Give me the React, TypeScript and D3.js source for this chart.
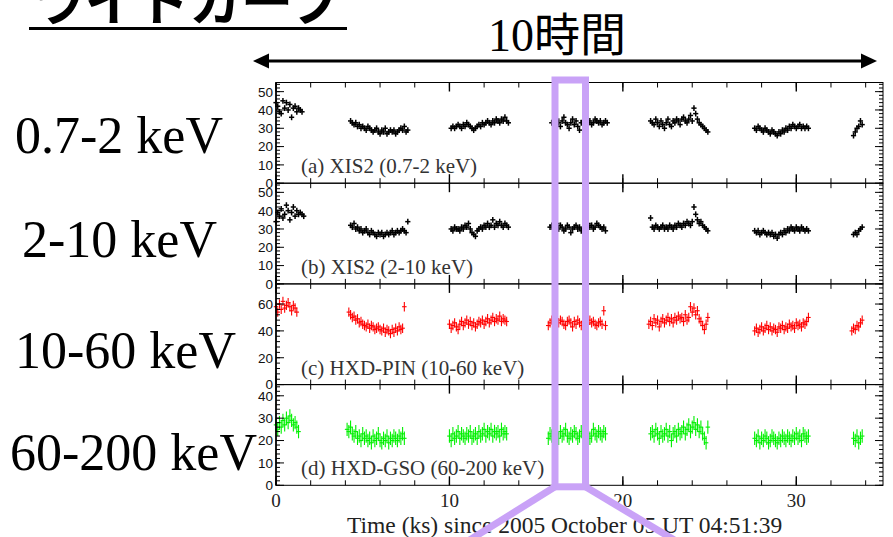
import React from "react";
import * as d3 from "d3";

// ---------- data ----------
const TIME_DOMAIN: [number, number] = [0, 35];
const X_MAJOR_TICKS = [0, 10, 20, 30];
const X_TICK_LABELS = ["0", "10", "20", "30"];
const BIN_KS = 0.1;

const PANEL_NAMES = [
  "(a) XIS2 (0.7-2 keV)",
  "(b) XIS2 (2-10 keV)",
  "(c) HXD-PIN (10-60 keV)",
  "(d) HXD-GSO (60-200 keV)",
];
const BAND_LABELS = ["0.7-2 keV", "2-10 keV", "10-60 keV", "60-200 keV"];
const Y_MAX = [55, 55, 75, 45];
const Y_MAJOR_STEP = [10, 10, 20, 10];
const Y_MINOR_STEP = [2, 2, 4, 2];
const Y_ERR = [1.6, 1.6, 3.5, 3.0];
const X_ERR = [0.15, 0.15, 0.13, 0.13];
const SERIES_COLORS = ["#000000", "#000000", "#ff0000", "#00f000"];

// segment start times (ks) per panel
const SOFT_STARTS = [0.0, 4.3, 10.1, 15.9, 21.6, 27.6, 33.3];
const HARD_STARTS = [0.0, 4.3, 10.1, 15.8, 21.6, 27.6, 33.3];
const PIN_STARTS = [0.0, 4.2, 10.0, 15.7, 21.5, 27.6, 33.2];
const GSO_STARTS = [0.0, 4.1, 10.0, 15.7, 21.6, 27.6, 33.3];

// count rates per segment
const SOFT_RATES: number[][] = [
  [44, 42, 39, 38, 45, 41, 44, 40, 43, 36, 41, 42, 39, 41, 40, 39],
  [34, 33, 32, 33, 31, 32, 30, 31, 30, 29, 31, 30, 29, 28, 29, 30, 28, 27, 29, 28, 30, 27, 28, 29, 28, 29, 27, 28, 29, 30, 29, 31, 28, 29],
  [30, 31, 30, 31, 32, 31, 30, 32, 31, 33, 32, 31, 30, 29, 30, 31, 32, 31, 33, 32, 33, 34, 33, 32, 34, 33, 35, 34, 33, 35, 34, 36, 34, 33],
  [33, 34, 32, 35, 33, 31, 34, 36, 33, 32, 30, 33, 35, 32, 34, 31, 29, 33, 34, 32, 35, 33, 34, 32, 33, 35, 34, 33, 34, 32, 33, 34, 33],
  [34, 33, 32, 35, 33, 31, 34, 32, 30, 33, 35, 32, 31, 34, 33, 35, 34, 32, 35, 36, 34, 33, 35, 37, 34, 41, 38, 35, 33, 32, 31, 30, 29, 28],
  [30, 29, 31, 30, 29, 28, 30, 29, 28, 27, 29, 28, 27, 26, 28, 27, 29, 28, 30, 29, 31, 30, 32, 31, 30, 31, 32, 30, 31, 30, 31, 30],
  [26, 28, 30, 31, 34, 32],
];
const HARD_RATES: number[][] = [
  [34, 39, 37, 41, 36, 38, 43, 40, 35, 39, 42, 37, 40, 38, 39, 38, 37],
  [32, 31, 33, 30, 31, 29, 30, 28, 29, 30, 28, 27, 29, 28, 27, 26, 28, 27, 28, 26, 27, 28, 27, 28, 29, 27, 28, 29, 28, 29, 30, 29, 28, 34],
  [30, 29, 31, 30, 30, 29, 31, 30, 32, 31, 33, 30, 28, 27, 26, 29, 30, 31, 30, 32, 31, 33, 31, 32, 35, 31, 33, 32, 34, 32, 31, 33, 32, 31],
  [31, 32, 30, 31, 33, 30, 32, 31, 29, 30, 32, 31, 28, 30, 31, 32, 30, 31, 29, 30, 31, 32, 33, 31, 32, 30, 31, 33, 32, 31, 30, 31, 29],
  [36, 31, 30, 32, 31, 30, 31, 32, 30, 31, 30, 32, 31, 30, 32, 31, 33, 32, 31, 33, 32, 34, 33, 32, 34, 42, 38, 35, 33, 34, 32, 31, 30, 29],
  [29, 28, 29, 27, 28, 29, 28, 27, 28, 27, 28, 26, 27, 25, 27, 28, 27, 29, 28, 30, 29, 31, 30, 29, 31, 30, 29, 31, 30, 29, 30, 29],
  [27, 28, 27, 29, 30, 31],
];
const PIN_RATES: number[][] = [
  [58, 54, 60, 56, 62, 57, 59, 61, 58, 55, 59, 57, 54],
  [54, 52, 50, 51, 48, 49, 46, 47, 45, 44, 43, 45, 42, 44, 43, 41, 42, 43, 41, 40, 42, 39, 41, 40, 38, 41, 39, 42, 40, 43, 41, 42, 58],
  [45, 42, 44, 46, 43, 41, 45, 47, 44, 46, 48, 45, 47, 44, 46, 43, 45, 47, 46, 48, 45, 47, 49, 46, 48, 50, 47, 49, 48, 51, 47, 49, 48, 47],
  [44, 46, 48, 47, 45, 49, 46, 48, 47, 45, 44, 47, 48, 46, 43, 47, 45, 48, 46, 44, 47, 49, 46, 45, 48, 46, 47, 45, 44, 46, 47, 45, 55, 44],
  [45, 47, 44, 49, 46, 48, 43, 47, 49, 46, 48, 50, 47, 49, 46, 50, 48, 51, 49, 50, 47, 52, 48, 50, 58, 54, 57, 52, 55, 49, 47, 44, 41, 45, 50],
  [40, 42, 39, 41, 43, 40, 42, 44, 41, 43, 40, 42, 41, 39, 43, 42, 44, 41, 43, 42, 45, 43, 44, 42, 46, 44, 45, 43, 46, 45, 47, 50],
  [40, 42, 41, 44, 43, 46, 48],
];
const GSO_RATES: number[][] = [
  [27, 25, 28, 26, 29, 27, 30, 28, 31, 29, 27, 28, 26, 24],
  [25, 24, 26, 23, 22, 24, 21, 22, 20, 23, 21, 22, 20, 21, 19, 22, 20, 21, 23, 20, 19, 21, 20, 22, 19, 21, 20, 22, 21, 20, 22, 21, 23, 21],
  [22, 20, 23, 21, 22, 24, 21, 23, 22, 21, 23, 22, 24, 21, 22, 23, 21, 24, 22, 23, 25, 22, 24, 23, 25, 22, 24, 23, 24, 22, 25, 23, 24, 23],
  [21, 23, 22, 24, 22, 23, 21, 24, 22, 23, 25, 22, 21, 23, 22, 24, 23, 21, 22, 24, 23, 22, 24, 23, 21, 22, 25, 23, 22, 24, 23, 22, 24, 23],
  [23, 24, 22, 25, 23, 21, 24, 22, 23, 25, 22, 24, 20, 23, 24, 22, 25, 23, 24, 26, 23, 25, 27, 24, 26, 28, 25, 27, 24, 26, 23, 21, 19, 26],
  [21, 20, 22, 19, 21, 20, 22, 21, 19, 20, 22, 21, 20, 19, 21, 20, 22, 21, 20, 22, 21, 20, 22, 21, 23, 21, 22, 20, 23, 22, 21, 22],
  [21, 20, 22, 19, 21, 22],
];

const PANEL_STARTS = [SOFT_STARTS, HARD_STARTS, PIN_STARTS, GSO_STARTS];
const PANEL_RATES = [SOFT_RATES, HARD_RATES, PIN_RATES, GSO_RATES];

const TITLE = "ライトカーブ";
const SPAN_LABEL_NUM = "10";
const SPAN_LABEL_JP = "時間";
const X_AXIS_TITLE = "Time (ks) since 2005 October 05 UT 04:51:39";

// ---------- layout ----------
const W = 893;
const H = 537;
const PLOT_L = 276;
const PLOT_R = 883;
const PLOT_TOP = 82.5;
const PANEL_H = 100.7;
const LAVENDER = "#c9a2f7";
const SERIF = "'Liberation Serif', 'DejaVu Serif', serif";
const SANS = "'Liberation Sans', Arial, sans-serif";
const CJK = "'Noto Sans CJK JP', sans-serif";

const x = d3.scaleLinear().domain(TIME_DOMAIN).range([PLOT_L, PLOT_R]);
const xMinor = d3.range(TIME_DOMAIN[0], TIME_DOMAIN[1] + 0.001, 2);

function Panel({ i }: { i: number }) {
  const top = PLOT_TOP + i * PANEL_H;
  const bottom = top + PANEL_H;
  const y = d3.scaleLinear().domain([0, Y_MAX[i]]).range([bottom, top]);
  const majors = d3.range(0, Y_MAX[i] + 0.001, Y_MAJOR_STEP[i]);
  const minors = d3.range(0, Y_MAX[i] + 0.001, Y_MINOR_STEP[i]);
  const color = SERIES_COLORS[i];
  const pts: { t: number; v: number }[] = [];
  PANEL_RATES[i].forEach((seg, si) =>
    seg.forEach((v, k) => pts.push({ t: PANEL_STARTS[i][si] + k * BIN_KS, v }))
  );
  const ye = Y_ERR[i];
  const xe = X_ERR[i];
  return (
    <g>
      {/* data crosses */}
      <g stroke={color} strokeWidth={i < 2 ? 1.5 : 1.1}>
        {pts.map((p, k) => (
          <g key={k}>
            <line x1={x(p.t - xe)} x2={x(p.t + xe)} y1={y(p.v)} y2={y(p.v)} />
            <line x1={x(p.t)} x2={x(p.t)} y1={y(p.v - ye)} y2={y(p.v + ye)} />
          </g>
        ))}
      </g>
      {/* frame */}
      <rect x={PLOT_L} y={top} width={PLOT_R - PLOT_L} height={PANEL_H} fill="none" stroke="#000" strokeWidth={1} />
      <line x1={PLOT_L} x2={PLOT_L} y1={top} y2={bottom} stroke="#000" strokeWidth={1.6} />
      {/* y ticks */}
      <g stroke="#000" strokeWidth={1}>
        {minors.map((v) => (
          <g key={"m" + v}>
            <line x1={PLOT_L} x2={PLOT_L + 4} y1={y(v)} y2={y(v)} />
            <line x1={PLOT_R} x2={PLOT_R - 4} y1={y(v)} y2={y(v)} />
          </g>
        ))}
        {majors.map((v) => (
          <g key={"M" + v}>
            <line x1={PLOT_L} x2={PLOT_L + 8} y1={y(v)} y2={y(v)} />
            <line x1={PLOT_R} x2={PLOT_R - 8} y1={y(v)} y2={y(v)} />
          </g>
        ))}
        {/* x ticks top & bottom */}
        {xMinor.map((t) => (
          <g key={"xm" + t}>
            <line x1={x(t)} x2={x(t)} y1={top} y2={top + 5} />
            <line x1={x(t)} x2={x(t)} y1={bottom} y2={bottom - 5} />
          </g>
        ))}
        {X_MAJOR_TICKS.map((t) => (
          <g key={"xM" + t} strokeWidth={1.4}>
            <line x1={x(t)} x2={x(t)} y1={top} y2={top + 9} />
            <line x1={x(t)} x2={x(t)} y1={bottom} y2={bottom - 9} />
          </g>
        ))}
      </g>
      {/* y labels */}
      {majors.map((v) => (
        <text key={"l" + v} x={PLOT_L - 3} y={y(v)} dy="0.36em" textAnchor="end" fontFamily={SANS} fontSize={13.5} fill="#111">
          {v}
        </text>
      ))}
      <text x={301} y={bottom - 10} fontFamily={SERIF} fontSize={21} fill="#333">
        {PANEL_NAMES[i]}
      </text>
    </g>
  );
}

const BAND_POS = [
  { x: 15, y: 153 },
  { x: 22, y: 257 },
  { x: 15, y: 368 },
  { x: 10, y: 470 },
];

export default function App() {
  const lastBottom = PLOT_TOP + 4 * PANEL_H;
  return (
    <svg width={W} height={H} style={{ position: "absolute", left: 0, top: 0, display: "block", background: "#fff" }}>
      <rect x={0} y={0} width={W} height={H} fill="#fff" />
      {/* title */}
      <text x={33} y={21} fontFamily={CJK} fontWeight={700} fontSize={52} fill="#000">
        {TITLE}
      </text>
      <line x1={29} x2={347} y1={28.5} y2={28.5} stroke="#000" strokeWidth={3} />
      {/* span label and arrow */}
      <text x={488} y={51} fontSize={46} fill="#000">
        <tspan fontFamily={SERIF}>{SPAN_LABEL_NUM}</tspan>
        <tspan fontFamily={CJK}>{SPAN_LABEL_JP}</tspan>
      </text>
      <line x1={266} x2={864} y1={61} y2={61} stroke="#000" strokeWidth={3} />
      <path d="M253,61 L269,53.5 L269,68.5 Z" fill="#000" />
      <path d="M877,61 L861,53.5 L861,68.5 Z" fill="#000" />
      {/* panels */}
      {[0, 1, 2, 3].map((i) => (
        <Panel key={i} i={i} />
      ))}
      {/* x tick labels */}
      {X_MAJOR_TICKS.map((t, k) => (
        <text key={t} x={x(t)} y={507} textAnchor="middle" fontFamily={SERIF} fontSize={19} fill="#222">
          {X_TICK_LABELS[k]}
        </text>
      ))}
      <text x={347} y={533} fontFamily={SERIF} fontSize={23.5} fill="#222">
        {X_AXIS_TITLE}
      </text>
      {/* band labels */}
      {BAND_LABELS.map((b, k) => (
        <text key={b} x={BAND_POS[k].x} y={BAND_POS[k].y} fontFamily={SERIF} fontSize={52} fill="#000">
          {b}
        </text>
      ))}
      {/* zoom highlight */}
      <g stroke={LAVENDER} strokeWidth={7} fill="none">
        <rect x={555} y={80} width={30.5} height={lastBottom + 1.5 - 80} />
        <line x1={555} y1={lastBottom + 1.5} x2={468} y2={541} />
        <line x1={585.5} y1={lastBottom + 1.5} x2={676} y2={541} />
      </g>
    </svg>
  );
}
